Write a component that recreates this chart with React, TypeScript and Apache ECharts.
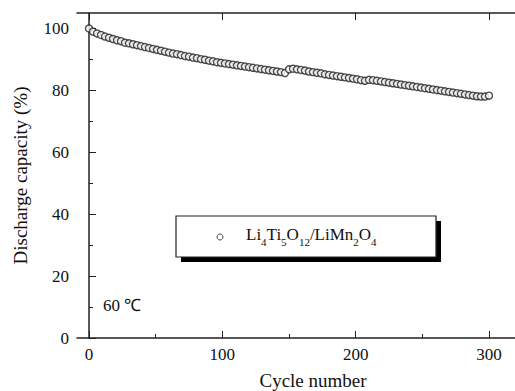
import React, { useEffect, useRef } from "react";
import * as echarts from "echarts";

const cycles: number[] = [
  0, 3, 6, 9, 12, 15, 18, 21, 24, 27, 30, 33, 36, 39, 42, 45, 48, 51, 54, 57,
  60, 63, 66, 69, 72, 75, 78, 81, 84, 87, 90, 93, 96, 99, 102, 105, 108, 111, 114, 117,
  120, 123, 126, 129, 132, 135, 138, 141, 144, 147, 150, 153, 156, 159, 162, 165, 168, 171, 174, 177,
  180, 183, 186, 189, 192, 195, 198, 201, 204, 207, 210, 213, 216, 219, 222, 225, 228, 231, 234, 237,
  240, 243, 246, 249, 252, 255, 258, 261, 264, 267, 270, 273, 276, 279, 282, 285, 288, 291, 294, 297, 300,
];
const capacity: number[] = [
  100.0, 99.0, 98.4, 97.9, 97.4, 97.0, 96.6, 96.2, 95.9, 95.4, 95.2, 94.9, 94.6, 94.3, 94.0, 93.7, 93.4, 93.1, 92.8, 92.5,
  92.2, 91.9, 91.7, 91.4, 91.1, 90.9, 90.6, 90.4, 90.1, 89.9, 89.6, 89.4, 89.1, 88.9, 88.7, 88.5, 88.3, 88.1, 87.9, 87.7,
  87.5, 87.3, 87.1, 86.9, 86.7, 86.5, 86.3, 86.1, 85.9, 85.6, 86.8, 87.0, 86.8, 86.6, 86.4, 86.1, 85.9, 85.7, 85.5, 85.2,
  85.0, 84.8, 84.6, 84.4, 84.2, 84.0, 83.8, 83.6, 83.3, 83.1, 83.4, 83.3, 83.1, 82.9, 82.7, 82.5, 82.3, 82.1, 81.9, 81.7,
  81.5, 81.3, 81.1, 80.9, 80.7, 80.5, 80.3, 80.1, 79.9, 79.7, 79.5, 79.3, 79.1, 78.9, 78.7, 78.5, 78.3, 78.1, 78.0, 78.0, 78.3,
];
const xLabelValues: number[] = [0, 100, 200, 300];
const xMinorValues: number[] = [50, 150, 250];
const yLabelValues: number[] = [0, 20, 40, 60, 80, 100];
const yMinorValues: number[] = [10, 30, 50, 70, 90];
const seriesName = "Li4Ti5O12/LiMn2O4";

const FONT = "Liberation Serif";

export default function App() {
  const ref = useRef<HTMLDivElement>(null);
  useEffect(() => {
    if (!ref.current) return;
    const chart = echarts.init(ref.current, null, { renderer: "svg" });
    const axisLine = { show: true, lineStyle: { color: "#222", width: 1.5 } };
    const baseX = { type: "value", min: -9, max: 345, gridIndex: 0 };
    const baseY = { type: "value", min: 0, max: 105, gridIndex: 0 };
    chart.setOption({
      animation: false,
      backgroundColor: "#fff",
      grid: {
        left: 77,
        top: 13,
        right: -34,
        bottom: 53,
        containLabel: false,
        outerBoundsMode: "none",
        show: false,
      },
      xAxis: [
        {
          ...baseX,
          position: "bottom",
          name: "Cycle number",
          nameLocation: "middle",
          nameGap: 33,
          nameTextStyle: { fontFamily: FONT, fontSize: 19, color: "#111" },
          axisLine,
          axisTick: { show: true, inside: true, length: 7, customValues: xLabelValues, lineStyle: { color: "#222", width: 1 } },
          axisLabel: { customValues: xLabelValues, fontFamily: FONT, fontSize: 17, color: "#111", margin: 8 },
          splitLine: { show: false },
        },
        {
          ...baseX,
          position: "bottom",
          axisLine: { show: false },
          axisTick: { show: true, inside: true, length: 4, customValues: xMinorValues, lineStyle: { color: "#222", width: 1 } },
          axisLabel: { show: false },
          splitLine: { show: false },
        },
        {
          ...baseX,
          position: "top",
          axisLine,
          axisTick: { show: true, inside: true, length: 7, customValues: xLabelValues, lineStyle: { color: "#222", width: 1 } },
          axisLabel: { show: false },
          splitLine: { show: false },
        },
      ],
      yAxis: [
        {
          ...baseY,
          position: "left",
          name: "Discharge capacity (%)",
          nameLocation: "middle",
          nameGap: 47,
          nameTextStyle: { fontFamily: FONT, fontSize: 19, color: "#111" },
          axisLine,
          axisTick: { show: true, inside: true, length: 7, customValues: yLabelValues, lineStyle: { color: "#222", width: 1 } },
          axisLabel: { customValues: yLabelValues, fontFamily: FONT, fontSize: 17, color: "#111", margin: 8 },
          splitLine: { show: false },
        },
        {
          ...baseY,
          position: "left",
          axisLine: { show: false },
          axisTick: { show: true, inside: true, length: 4, customValues: yMinorValues, lineStyle: { color: "#222", width: 1 } },
          axisLabel: { show: false },
          splitLine: { show: false },
        },
      ],
      series: [
        {
          name: seriesName,
          type: "scatter",
          xAxisIndex: 0,
          yAxisIndex: 0,
          symbol: "circle",
          symbolSize: 7,
          itemStyle: { color: "#fff", borderColor: "#222", borderWidth: 1.4 },
          data: cycles.map((c, i) => [c, capacity[i]]),
        },
      ],
      graphic: [
        { type: "rect", shape: { x: 181, y: 221, width: 260, height: 41 }, style: { fill: "#000" } },
        { type: "rect", shape: { x: 176, y: 216, width: 260, height: 41 }, style: { fill: "#fff", stroke: "#222", lineWidth: 1.2 } },
        { type: "circle", shape: { cx: 220, cy: 237, r: 3 }, style: { fill: "#fff", stroke: "#444", lineWidth: 1 } },
        {
          type: "text",
          x: 246,
          y: 226,
          style: {
            text: "{n|Li}{s|4}{n|Ti}{s|5}{n|O}{s|12}{n|/LiMn}{s|2}{n|O}{s|4}",
            rich: {
              n: { fontFamily: FONT, fontSize: 17, lineHeight: 18, verticalAlign: "top", fill: "#111" },
              s: { fontFamily: FONT, fontSize: 11, lineHeight: 11, padding: [10, 0, 0, 0], verticalAlign: "top", fill: "#111" },
            },
          },
        },
        {
          type: "text",
          x: 103,
          y: 305,
          style: { text: "60 ℃", fontFamily: FONT, fontSize: 17, fill: "#111", verticalAlign: "middle" },
        },
      ],
    });
    return () => chart.dispose();
  }, []);
  return <div ref={ref} style={{ position: "fixed", left: 0, top: 0, width: 515, height: 391 }} />;
}
